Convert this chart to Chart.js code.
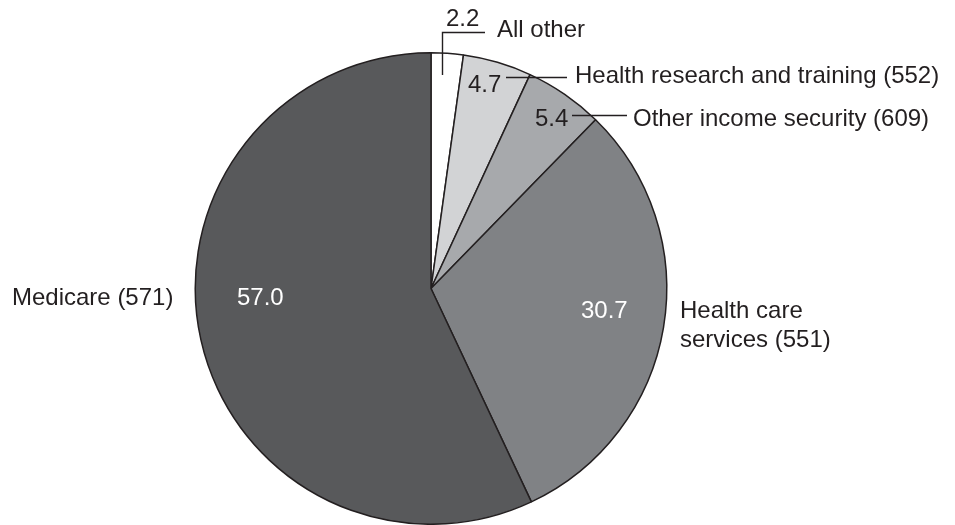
<!DOCTYPE html>
<html>
<head>
<meta charset="utf-8">
<script src="https://cdn.jsdelivr.net/npm/chart.js@4"></script>
<style>
  html, body { margin: 0; padding: 0; background: #fff; }
  canvas { display: block; }
</style>
</head>
<body>
<canvas id="pieChart" width="955" height="525"></canvas>
<script>
// data, clockwise from 12 o'clock
const categories = ["All other", "Health research and training (552)", "Other income security (609)", "Health care services (551)", "Medicare (571)"];
const shares = [2.2, 4.7, 5.4, 30.7, 57.0];
const valueLabels = ["2.2", "4.7", "5.4", "30.7", "57.0"];
const sliceColors = ["#ffffff", "#d2d3d5", "#a7a9ac", "#808285", "#58595b"];

const ink = "#231f20";
const font = "24px 'Liberation Sans', Arial, sans-serif";

// callout layout (pixels): value text, category text, leader lines
const callouts = [
  { vx: 446, vy: 26, vc: ink, cx: 497, cy: 37, cat: ["All other"], lines: [[442.5, 75, 442.5, 32.5, 485, 32.5]] },
  { vx: 468, vy: 92, vc: ink, cx: 575, cy: 83, cat: ["Health research and training (552)"], lines: [[506, 77.5, 567, 77.5]] },
  { vx: 535, vy: 126, vc: ink, cx: 633, cy: 126, cat: ["Other income security (609)"], lines: [[572, 115.5, 627, 115.5]] }
  ,
  { vx: 581, vy: 318, vc: "#ffffff", cx: 680, cy: 318, cat: ["Health care", "services (551)"], lines: [] },
  { vx: 237, vy: 305, vc: "#ffffff", cx: 12, cy: 305, cat: ["Medicare (571)"], lines: [] }
];

const calloutPlugin = {
  id: "callouts",
  afterDraw(chart) {
    const ctx = chart.ctx;
    ctx.save();
    ctx.font = font;
    ctx.textBaseline = "alphabetic";
    ctx.textAlign = "left";
    ctx.strokeStyle = ink;
    ctx.lineWidth = 1.4;
    callouts.forEach((c, i) => {
      c.lines.forEach(pts => {
        ctx.beginPath();
        ctx.moveTo(pts[0], pts[1]);
        for (let k = 2; k < pts.length; k += 2) ctx.lineTo(pts[k], pts[k + 1]);
        ctx.stroke();
      });
      ctx.fillStyle = c.vc;
      ctx.fillText(valueLabels[i], c.vx, c.vy);
      ctx.fillStyle = ink;
      c.cat.forEach((t, j) => ctx.fillText(t, c.cx, c.cy + j * 29));
    });
    ctx.restore();
  }
};

new Chart(document.getElementById("pieChart").getContext("2d"), {
  type: "pie",
  data: {
    labels: categories,
    datasets: [{
      data: shares,
      backgroundColor: sliceColors,
      borderColor: ink,
      borderWidth: 1.5
    }]
  },
  options: {
    responsive: false,
    animation: false,
    devicePixelRatio: 1,
    layout: { padding: { left: 194, right: 287, top: 52, bottom: 0 } },
    plugins: {
      legend: { display: false },
      tooltip: { enabled: false }
    }
  },
  plugins: [calloutPlugin]
});
</script>
</body>
</html>
